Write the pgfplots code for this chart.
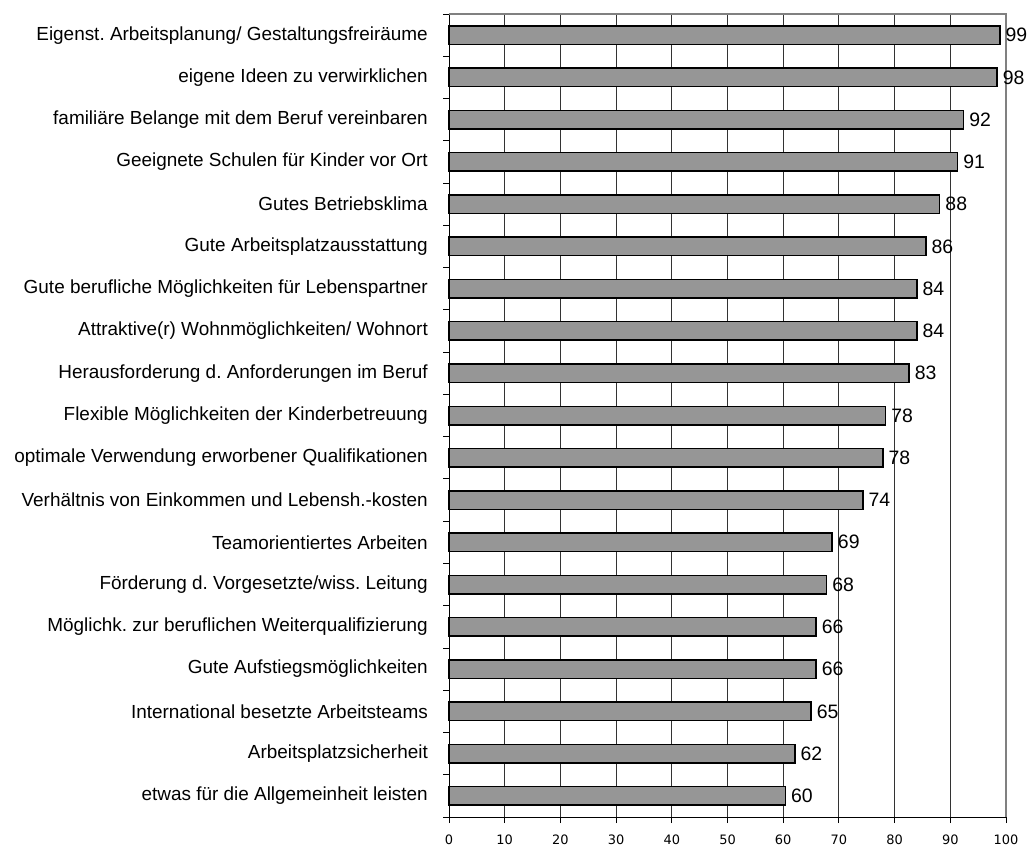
\documentclass[border=0pt]{standalone}
\usepackage{fontspec}
\setmainfont{Liberation Sans}
\newfontfamily\tickfont{DejaVu Sans}
\usepackage{pgfplots}
\usepackage{pgfplotstable}
\pgfplotsset{compat=1.18}
\frenchspacing
\definecolor{barfill}{RGB}{150,150,150}
\definecolor{framegray}{RGB}{128,128,128}
\pgfplotstableread{
idx val
0 98.9
1 98.4
2 92.4
3 91.3
4 88.1
5 85.6
6 84.0
7 84.0
8 82.6
9 78.4
10 77.9
11 74.3
12 68.8
13 67.8
14 65.9
15 65.9
16 65.0
17 62.1
18 60.4
}\datatable
\begin{document}
\begin{tikzpicture}
\begin{axis}[
  at={(449bp,29bp)}, anchor=south west,
  scale only axis, width=557bp, height=803bp,
  xbar, bar width=18.5bp, bar shift=0pt,
  xmin=0, xmax=100, ymin=-0.5, ymax=18.5, y dir=reverse,
  axis x line*=bottom, axis y line*=left,
  axis line style={black, line width=1bp},
  xtick={0,10,...,100},
  xmajorgrids, grid style={black!80, line width=0.9bp},
  ytick={0,...,18},
  minor ytick={-0.5,0.5,...,18.5},
  major y tick style={draw=none},
  every minor y tick/.style={black, line width=0.9bp},
  minor tick length=6bp,
  major tick length=6bp,
  tick align=outside,
  x tick style={black, line width=0.9bp},
  yticklabels={
    {Eigenst. Arbeitsplanung/ Gestaltungsfreiräume},
    {eigene Ideen zu verwirklichen},
    {familiäre Belange mit dem Beruf vereinbaren},
    {Geeignete Schulen für Kinder vor Ort},
    {Gutes Betriebsklima},
    {Gute Arbeitsplatzausstattung},
    {Gute berufliche Möglichkeiten für Lebenspartner},
    {Attraktive(r) Wohnmöglichkeiten/ Wohnort},
    {Herausforderung d. Anforderungen im Beruf},
    {Flexible Möglichkeiten der Kinderbetreuung},
    {optimale Verwendung erworbener Qualifikationen},
    {Verhältnis von Einkommen und Lebensh.-kosten},
    {Teamorientiertes Arbeiten},
    {Förderung d. Vorgesetzte/wiss. Leitung},
    {Möglichk. zur beruflichen Weiterqualifizierung},
    {Gute Aufstiegsmöglichkeiten},
    {International besetzte Arbeitsteams},
    {Arbeitsplatzsicherheit},
    {etwas für die Allgemeinheit leisten}},
  yticklabel style={font=\fontsize{19}{21}\selectfont, inner sep=0pt, xshift=-15bp},
  xticklabel style={font=\tickfont\fontsize{13}{15}\selectfont, inner sep=0pt, yshift=-12bp},
  /pgf/number format/assume math mode=true,
  nodes near coords={\pgfmathprintnumber[fixed,precision=0]{\pgfplotspointmeta}},
  point meta=x,
  every node near coord/.append style={font=\fontsize{19.5}{21}\selectfont, inner sep=0pt, xshift=5bp, text=black},
  clip=false,
]
\addplot[fill=barfill, draw=black, line width=1.5bp] table[x=val, y=idx] {\datatable};
\draw[framegray, line width=1.2bp] (axis cs:0,-0.5) -- (axis cs:100,-0.5) -- (axis cs:100,18.5);
\end{axis}
\pgfresetboundingbox
\path (0,0) rectangle (1029bp,846bp);
\end{tikzpicture}
\end{document}
